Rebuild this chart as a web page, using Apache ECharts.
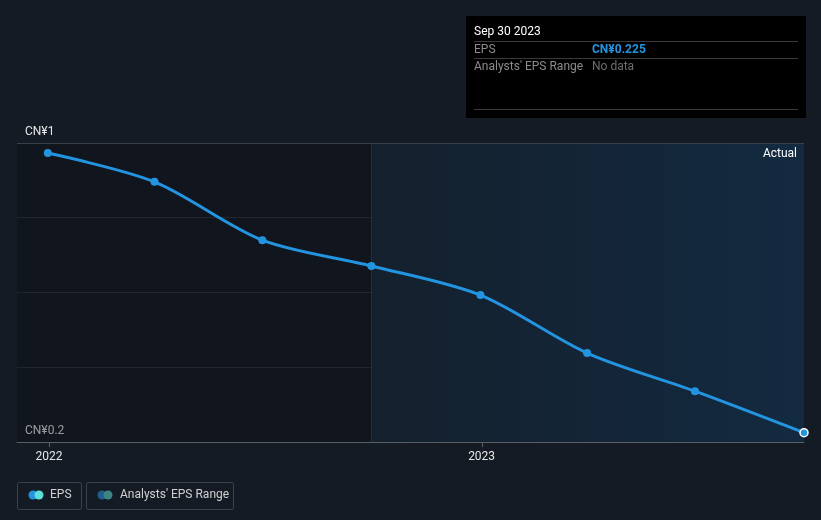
<!DOCTYPE html>
<html><head><meta charset="utf-8">
<script src="https://cdn.jsdelivr.net/npm/echarts@6/dist/echarts.min.js"></script>
<style>html,body{margin:0;padding:0;background:#151b25;}#c{width:821px;height:520px;}</style>
</head><body><div id="c"></div>
<script>
const dates = ['2021-12-31','2022-03-31','2022-06-30','2022-09-30','2022-12-31','2023-03-31','2023-06-30','2023-09-30'];
const eps = [0.973, 0.896, 0.740, 0.671, 0.593, 0.438, 0.336, 0.225];
const yTicks = [0.2, 1];
const yearTicks = ['2022-01-01', '2023-01-01'];
const xMin = '2021-12-05';
const xMax = '2023-09-30';
const forecastStart = '2022-09-30';

const chart = echarts.init(document.getElementById('c'));
const font = 'Roboto, "Noto Sans", sans-serif';
const data = dates.map((d,i)=>{
  const item = {value: [d, eps[i]]};
  if (i === dates.length - 1) item.itemStyle = {borderColor: '#ffffff', borderWidth: 1.5};
  return item;
});
chart.setOption({
  backgroundColor: '#151b25',
  animation: false,
  grid: {left: 17, right: 17, top: 143, bottom: 78},
  xAxis: {
    type: 'time', min: xMin, max: xMax,
    axisLine: {lineStyle: {color: '#5a5f66', width: 1}},
    axisTick: {show: false},
    splitLine: {show: false},
    axisLabel: {color: '#e6e6e6', fontFamily: font, fontSize: 12, margin: 9,
      formatter: v => { const d = new Date(v); return (d.getMonth()===0 && d.getDate()===1) ? String(d.getFullYear()) : ''; }}
  },
  yAxis: {
    type: 'value', min: 0.2, max: 1, interval: 0.2,
    axisLine: {show: false}, axisTick: {show: false},
    splitLine: {lineStyle: {color: '#30363f', width: 1}},
    axisLabel: {inside: true, margin: 8, color: '#e6e6e6', fontFamily: font, fontSize: 12,
      verticalAlign: 'bottom', padding: [0,0,5,0],
      formatter: v => (Math.abs(v-yTicks[0])<1e-6 || Math.abs(v-yTicks[1])<1e-6) ? 'CN¥' + (+v.toFixed(1)) : ''}
  },
  series: [{
    type: 'line', data: data,
    smooth: 0.3, symbol: 'circle', symbolSize: 8,
    lineStyle: {color: '#2394df', width: 3},
    itemStyle: {color: '#2394df'},
    z: 5,
    markArea: {silent: true, data: [
      [{xAxis: xMin, itemStyle: {color: 'rgba(10,12,16,0.35)'}}, {xAxis: forecastStart}],
      [{xAxis: forecastStart, itemStyle: {color: {type:'linear', x:0,y:0,x2:1,y2:0, colorStops:[{offset:0,color:'#14202d'},{offset:1,color:'#132a40'}]}}}, {xAxis: xMax}]
    ]},
    markLine: {silent: true, symbol: 'none', label: {show: false},
      data: [
        {xAxis: forecastStart, lineStyle: {color: '#1c3048', type: 'solid', width: 1}},
        {yAxis: 1, lineStyle: {color: '#3a4049', type: 'solid', width: 1}}
      ]}
  }],
  graphic: [
    {id: 'actual', type: 'text', x: 797, y: 148, z: 100, style: {text: 'Actual', fill: '#ffffff', font: '12px ' + font, textAlign: 'right'}},
    {id: 'tbox', type: 'rect', shape: {x: 466, y: 16, width: 340, height: 102}, style: {fill: '#000000'}},
    {id: 't1', type: 'text', x: 474, y: 26, style: {text: 'Sep 30 2023', fill: '#ffffff', font: '12px ' + font}},
    {id: 'l1', type: 'line', shape: {x1: 474, y1: 41.5, x2: 798, y2: 41.5}, style: {stroke: '#3a3a3a', lineWidth: 1}},
    {id: 't2', type: 'text', x: 474, y: 44, style: {text: 'EPS', fill: '#8c8c8c', font: '12px ' + font}},
    {id: 't3', type: 'text', x: 592, y: 44, style: {text: 'CN¥0.225', fill: '#2394df', font: 'bold 12px ' + font}},
    {id: 'l2', type: 'line', shape: {x1: 474, y1: 58.5, x2: 798, y2: 58.5}, style: {stroke: '#3a3a3a', lineWidth: 1}},
    {id: 't4', type: 'text', x: 474, y: 61, style: {text: "Analysts' EPS Range", fill: '#8c8c8c', font: '12px ' + font}},
    {id: 't5', type: 'text', x: 592, y: 61, style: {text: 'No data', fill: '#6e6e6e', font: '12px ' + font}},
    {id: 'l3', type: 'line', shape: {x1: 474, y1: 109.5, x2: 798, y2: 109.5}, style: {stroke: '#3a3a3a', lineWidth: 1}},
    {id: 'b1', type: 'rect', shape: {x: 17.5, y: 482.5, width: 64, height: 27, r: 2}, style: {fill: 'none', stroke: '#3c424b', lineWidth: 1}},
    {id: 'c1', type: 'circle', shape: {cx: 33, cy: 495, r: 4.5}, style: {fill: '#2394df'}},
    {id: 'c2', type: 'circle', shape: {cx: 39, cy: 495, r: 4.5}, style: {fill: '#5ee0d8'}},
    {id: 'lt1', type: 'text', x: 50, y: 489, style: {text: 'EPS', fill: '#d0d0d0', font: '12px ' + font}},
    {id: 'b2', type: 'rect', shape: {x: 86.5, y: 482.5, width: 147, height: 27, r: 2}, style: {fill: 'none', stroke: '#3c424b', lineWidth: 1}},
    {id: 'c3', type: 'circle', shape: {cx: 102, cy: 495, r: 4.5}, style: {fill: '#1f5f8f'}},
    {id: 'c4', type: 'circle', shape: {cx: 108, cy: 495, r: 4.5}, style: {fill: '#3c8580'}},
    {id: 'lt2', type: 'text', x: 120, y: 489, style: {text: "Analysts' EPS Range", fill: '#d0d0d0', font: '12px ' + font}}
  ]
});
// year ticks placed through the axis scale
const extra = yearTicks.map((t, i) => {
  const p = chart.convertToPixel({xAxisIndex: 0, yAxisIndex: 0}, [t, 0.2]);
  const x = Math.round(p[0]) + 0.5;
  return {id: 'tick' + i, type: 'line', shape: {x1: x, y1: p[1], x2: x, y2: p[1] + 5}, style: {stroke: '#5a5f66', lineWidth: 1}};
});
chart.setOption({graphic: extra});
</script></body></html>
